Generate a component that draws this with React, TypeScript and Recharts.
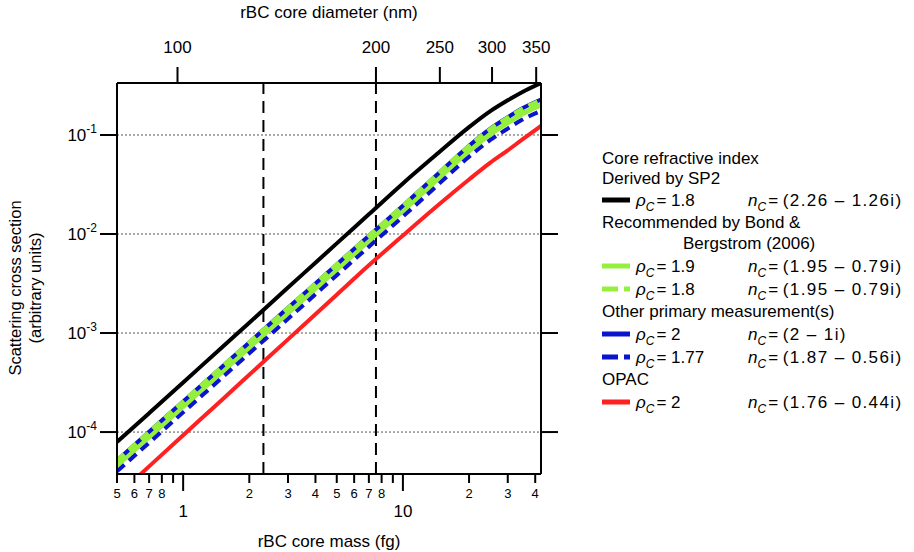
import React from 'react';
import { LineChart, Line, XAxis, YAxis, CartesianGrid, ReferenceLine } from 'recharts';

const FONT = '"Liberation Sans", Arial, Helvetica, sans-serif';

// rBC core mass (fg) at which the curves were read
const massFg = [0.5, 0.7, 1, 1.5, 2, 3, 4, 5, 7, 10, 14, 20, 25, 30, 35, 42.5];

// scattering cross section (arbitrary units)
const sp2Rho18 = [7.94e-5, 1.55e-4, 3.16e-4, 7.16e-4, 1.27e-3, 2.88e-3, 5.13e-3, 8.04e-3, 1.58e-2, 3.24e-2, 6.17e-2, 0.12, 0.174, 0.224, 0.272, 0.335];
const bondRho19 = [4.6e-5, 8.95e-5, 1.82e-4, 4.06e-4, 7.16e-4, 1.6e-3, 2.82e-3, 4.4e-3, 8.55e-3, 1.72e-2, 3.39e-2, 6.92e-2, 0.102, 0.133, 0.164, 0.201];
const bondRho18 = [5.11e-5, 9.93e-5, 2.01e-4, 4.5e-4, 7.94e-4, 1.77e-3, 3.13e-3, 4.88e-3, 9.48e-3, 1.91e-2, 3.76e-2, 7.67e-2, 0.1135, 0.148, 0.182, 0.223];
const otherRho2 = [5.16e-5, 1.005e-4, 2.04e-4, 4.55e-4, 8.04e-4, 1.8e-3, 3.17e-3, 4.93e-3, 9.59e-3, 1.93e-2, 3.8e-2, 7.8e-2, 0.1159, 0.151, 0.186, 0.228];
const otherRho177 = [4.01e-5, 7.8e-5, 1.58e-4, 3.53e-4, 6.24e-4, 1.39e-3, 2.46e-3, 3.83e-3, 7.45e-3, 1.5e-2, 2.95e-2, 6.03e-2, 0.0891, 0.116, 0.143, 0.175];
const opacRho2 = [2.27e-5, 4.5e-5, 9.29e-5, 2.11e-4, 3.79e-4, 8.63e-4, 1.55e-3, 2.44e-3, 4.83e-3, 9.66e-3, 1.84e-2, 3.55e-2, 5.25e-2, 7.0e-2, 0.0902, 0.1233];

// axes
const massTicks = [0.5, 0.6, 0.7, 0.8, 0.9, 1, 2, 3, 4, 5, 6, 7, 8, 9, 10, 20, 30, 40];
const massTickLabels = ['5', '6', '7', '8', '', '1', '2', '3', '4', '5', '6', '7', '8', '', '10', '2', '3', '4'];
const majorMass = [1, 10];
const diameterTicks = [100, 200, 250, 300, 350];
const refDiameters = [135, 200];
const yTicks = [1e-4, 1e-3, 1e-2, 1e-1];
const yTickExponents = ['-4', '-3', '-2', '-1'];
const BC_DENSITY = 1.8; // g/cm3, used for the top diameter axis

const massFromDiameter = (d: number) => ((BC_DENSITY * Math.PI) / 6) * d * d * d * 1e-6;
const topMass = diameterTicks.map(massFromDiameter);

const rows = massFg.map((m, i) => ({
  m,
  sp2: sp2Rho18[i],
  bond19: bondRho19[i],
  bond18: bondRho18[i],
  other2: otherRho2[i],
  other177: otherRho177[i],
  opac: opacRho2[i],
}));

const GREEN = '#94f03c';
const BLUE = '#0a14cc';
const RED = '#ff2121';

const MassTick = ({ x, y, payload }: any) => {
  const i = massTicks.indexOf(payload.value);
  const major = majorMass.includes(payload.value);
  const label = massTickLabels[i];
  return (
    <g>
      <line x1={x} x2={x} y1={y} y2={y + (major ? 17 : 9)} stroke="#000" strokeWidth={2} />
      {label ? (
        <text x={x} y={y + (major ? 43 : 24)} textAnchor="middle" fontSize={major ? 17 : 13} fontFamily={FONT} fill="#000">
          {label}
        </text>
      ) : null}
    </g>
  );
};

const DiameterTick = ({ x, y, payload }: any) => {
  const i = topMass.findIndex((m) => Math.abs(m - payload.value) < 1e-9);
  return (
    <text x={x} y={y - 14} textAnchor="middle" fontSize={17} fontFamily={FONT} fill="#000">
      {diameterTicks[i]}
    </text>
  );
};

const PowerTick = ({ x, y, payload }: any) => {
  const i = yTicks.indexOf(payload.value);
  return (
    <text x={x} y={y + 6} textAnchor="end" fontSize={17} fontFamily={FONT} fill="#000">
      <tspan>10</tspan>
      <tspan dy={-8} fontSize={12}>{yTickExponents[i]}</tspan>
    </text>
  );
};

const Sub = ({ x, y, sym, value, spread = 0 }: { x: number; y: number; sym: string; value: string; spread?: number }) => (
  <text x={x} y={y} fontSize={17} fontFamily={FONT} fill="#000" style={{ whiteSpace: 'pre' }}>
    <tspan fontStyle="italic">{sym}</tspan>
    <tspan fontStyle="italic" fontSize={12} dy={5}>C</tspan>
    <tspan dy={-5} dx={2}>= </tspan>
    <tspan letterSpacing={spread}>{value}</tspan>
  </text>
);

const legendHeads = [
  { text: 'Core refractive index', x: 602, y: 164 },
  { text: 'Derived by SP2', x: 602, y: 184 },
  { text: 'Recommended by Bond &', x: 602, y: 228 },
  { text: 'Bergstrom (2006)', x: 683, y: 249 },
  { text: 'Other primary measurement(s)', x: 602, y: 317 },
  { text: 'OPAC', x: 602, y: 385 },
];

const legendSeries = [
  { color: '#000', dash: false, rho: '1.8', n: '(2.26 – 1.26i)', y: 200 },
  { color: GREEN, dash: false, rho: '1.9', n: '(1.95 – 0.79i)', y: 266 },
  { color: GREEN, dash: true, rho: '1.8', n: '(1.95 – 0.79i)', y: 289 },
  { color: BLUE, dash: false, rho: '2', n: '(2 – 1i)', y: 334 },
  { color: BLUE, dash: true, rho: '1.77', n: '(1.87 – 0.56i)', y: 357 },
  { color: RED, dash: false, rho: '2', n: '(1.76 – 0.44i)', y: 402 },
];

export default function App() {
  return (
    <div style={{ position: 'absolute', left: 0, top: 0, width: 914, height: 552, background: '#fff' }}>
      <LineChart width={914} height={552} data={rows} margin={{ top: 23, right: 353, bottom: 18, left: 37 }}>
        <CartesianGrid xAxisId="bottom" yAxisId="left" vertical={false} stroke="#555" strokeDasharray="2 2" />
        <XAxis
          xAxisId="bottom"
          dataKey="m"
          type="number"
          scale="log"
          domain={[0.5, 42.5]}
          allowDataOverflow
          ticks={massTicks}
          interval={0}
          height={60}
          tickSize={0}
          tickMargin={0}
          tickLine={false}
          axisLine={{ stroke: '#000', strokeWidth: 2 }}
          tick={(p: any) => <MassTick {...p} />}
        />
        <XAxis
          xAxisId="top"
          dataKey="m"
          orientation="top"
          type="number"
          scale="log"
          domain={[0.5, 42.5]}
          allowDataOverflow
          ticks={topMass}
          interval={0}
          height={60}
          tickSize={16}
          tickMargin={0}
          tickLine={{ stroke: '#000', strokeWidth: 2 }}
          axisLine={{ stroke: '#000', strokeWidth: 2 }}
          tick={(p: any) => <DiameterTick {...p} />}
        />
        <YAxis
          yAxisId="left"
          type="number"
          scale="log"
          domain={[3.77e-5, 0.335]}
          allowDataOverflow
          ticks={yTicks}
          interval={0}
          width={80}
          tickSize={17}
          tickMargin={3}
          tickLine={{ stroke: '#000', strokeWidth: 2 }}
          axisLine={{ stroke: '#000', strokeWidth: 2 }}
          tick={(p: any) => <PowerTick {...p} />}
        />
        <YAxis
          yAxisId="right"
          orientation="right"
          type="number"
          scale="log"
          domain={[3.77e-5, 0.335]}
          allowDataOverflow
          ticks={yTicks}
          interval={0}
          width={20}
          tickSize={17}
          tickLine={{ stroke: '#000', strokeWidth: 2 }}
          axisLine={{ stroke: '#000', strokeWidth: 2 }}
          tick={() => <g />}
        />
        {refDiameters.map((d) => (
          <ReferenceLine
            key={d}
            xAxisId="bottom"
            yAxisId="left"
            x={massFromDiameter(d)}
            stroke="#000"
            strokeWidth={2}
            strokeDasharray="12 7"
          />
        ))}
        {/* invisible copy that ties the top and right axes to the data */}
        <Line xAxisId="top" yAxisId="right" dataKey="sp2" stroke="none" dot={false} activeDot={false} isAnimationActive={false} />
        <Line xAxisId="bottom" yAxisId="left" dataKey="sp2" type="monotone" stroke="#000" strokeWidth={4} dot={false} isAnimationActive={false} />
        <Line xAxisId="bottom" yAxisId="left" dataKey="opac" type="monotone" stroke={RED} strokeWidth={4} dot={false} isAnimationActive={false} />
        <Line xAxisId="bottom" yAxisId="left" dataKey="bond19" type="monotone" stroke={GREEN} strokeWidth={5} dot={false} isAnimationActive={false} />
        <Line xAxisId="bottom" yAxisId="left" dataKey="other2" type="monotone" stroke={BLUE} strokeWidth={4} dot={false} isAnimationActive={false} />
        <Line xAxisId="bottom" yAxisId="left" dataKey="bond18" type="monotone" stroke={GREEN} strokeWidth={5} strokeDasharray="10 6" dot={false} isAnimationActive={false} />
        <Line xAxisId="bottom" yAxisId="left" dataKey="other177" type="monotone" stroke={BLUE} strokeWidth={4} strokeDasharray="10 6" dot={false} isAnimationActive={false} />
      </LineChart>
      <svg width={914} height={552} style={{ position: 'absolute', left: 0, top: 0, pointerEvents: 'none' }}>
        <text x={329} y={18} textAnchor="middle" fontSize={17} fontFamily={FONT}>rBC core diameter (nm)</text>
        <text x={329} y={547} textAnchor="middle" fontSize={17} fontFamily={FONT}>rBC core mass (fg)</text>
        <text x={21} y={288} textAnchor="middle" fontSize={16.5} fontFamily={FONT} transform="rotate(-90 21 288)">
          Scattering cross section
        </text>
        <text x={41} y={288} textAnchor="middle" fontSize={16.5} fontFamily={FONT} transform="rotate(-90 41 288)">
          (arbitrary units)
        </text>
        {legendHeads.map((h) => (
          <text key={h.text + h.y} x={h.x} y={h.y} fontSize={17} fontFamily={FONT}>
            {h.text}
          </text>
        ))}
        {legendSeries.map((s) => (
          <g key={s.y}>
            <line
              x1={602}
              x2={630}
              y1={s.y}
              y2={s.y}
              stroke={s.color}
              strokeWidth={5}
              strokeDasharray={s.dash ? '16 6' : undefined}
            />
            <Sub x={636} y={s.y + 6} sym="ρ" value={s.rho} />
            <Sub x={748} y={s.y + 6} sym="n" value={s.n} spread={1.4} />
          </g>
        ))}
      </svg>
    </div>
  );
}
